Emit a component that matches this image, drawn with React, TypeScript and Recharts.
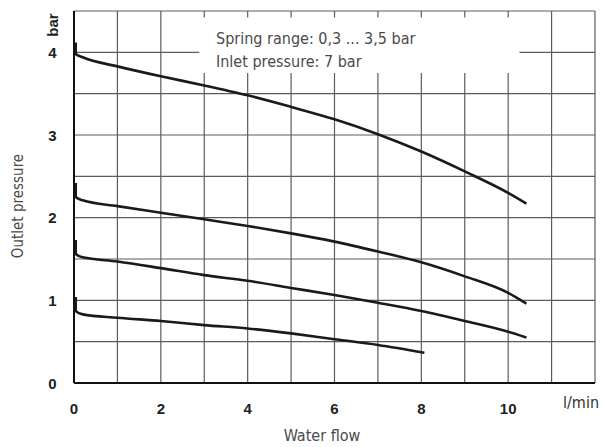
import { CartesianGrid, Line, LineChart, ReferenceArea, XAxis, YAxis } from "recharts";

// flow in l/min, outlet pressure in bar
const flowLong = [0.04, 0.04, 0.2, 1, 2, 3, 4, 5, 6, 7, 8, 9, 10, 10.42];
const flowShort = [0.04, 0.04, 0.2, 1, 2, 3, 4, 5, 6, 7, 8.07];

const outletTop = [4.12, 3.98, 3.94, 3.83, 3.71, 3.6, 3.48, 3.34, 3.19, 3.01, 2.8, 2.56, 2.3, 2.17];
const outletSecond = [2.42, 2.25, 2.21, 2.14, 2.06, 1.98, 1.9, 1.81, 1.71, 1.59, 1.46, 1.29, 1.09, 0.96];
const outletThird = [1.73, 1.56, 1.52, 1.47, 1.39, 1.305, 1.236, 1.15, 1.064, 0.97, 0.87, 0.75, 0.62, 0.55];
const outletBottom = [1.04, 0.87, 0.83, 0.79, 0.75, 0.7, 0.66, 0.6, 0.53, 0.46, 0.366];

const xTicks = [0, 1, 2, 3, 4, 5, 6, 7, 8, 9, 10, 11, 12];
const xLabels = [0, 2, 4, 6, 8, 10];
const yTicks = [0, 0.5, 1, 1.5, 2, 2.5, 3, 3.5, 4, 4.5];
const yLabels = [0, 1, 2, 3, 4];

const noteLines = ["Spring range: 0,3 ... 3,5 bar", "Inlet pressure: 7 bar"];

function zip(xs: number[], ys: number[]) {
  return xs.map((x, i) => ({ x, y: ys[i] }));
}

const curves = [
  zip(flowLong, outletTop),
  zip(flowLong, outletSecond),
  zip(flowLong, outletThird),
  zip(flowShort, outletBottom),
];

const W = 603;
const H = 447;
const narrow = "'DejaVu Sans Condensed', Roboto, sans-serif";
const bold = "'Liberation Sans', Arial, sans-serif";

function XTick(props: any) {
  const { x, y, payload } = props;
  if (!xLabels.includes(payload.value)) return null;
  return (
    <text x={x} y={y + 23} textAnchor="middle" fontFamily={bold} fontWeight="bold" fontSize={15} fill="#222">
      {payload.value}
    </text>
  );
}

function YTick(props: any) {
  const { y, payload } = props;
  if (!yLabels.includes(payload.value)) return null;
  return (
    <text x={52.5} y={y + 5.5} textAnchor="middle" fontFamily={bold} fontWeight="bold" fontSize={15} fill="#222">
      {payload.value}
    </text>
  );
}

export default function App() {
  return (
    <div style={{ position: "relative", width: W, height: H, background: "#fff" }}>
      <style>{"body{margin:0}"}</style>
      <LineChart width={W} height={H} margin={{ top: 11, right: 8, bottom: 0, left: 0 }}>
        <CartesianGrid stroke="#5c5c5c" strokeWidth={1.2} />
        <XAxis
          type="number"
          dataKey="x"
          domain={[0, 12]}
          ticks={xTicks}
          interval={0}
          height={64}
          tickLine={false}
          axisLine={{ stroke: "#111", strokeWidth: 2 }}
          tick={<XTick />}
          allowDataOverflow
        />
        <YAxis
          type="number"
          dataKey="y"
          domain={[0, 4.5]}
          ticks={yTicks}
          interval={0}
          width={74}
          tickLine={false}
          axisLine={{ stroke: "#111", strokeWidth: 2 }}
          tick={<YTick />}
          allowDataOverflow
        />
        <ReferenceArea x1={2.885} x2={10.26} y1={3.75} y2={4.42} fill="#fff" fillOpacity={1} stroke="none" />
        {curves.map((data, i) => (
          <Line
            key={i}
            data={data}
            dataKey="y"
            type="monotone"
            stroke="#1a1a1a"
            strokeWidth={2.6}
            dot={false}
            activeDot={false}
            isAnimationActive={false}
          />
        ))}
      </LineChart>
      <svg width={W} height={H} style={{ position: "absolute", left: 0, top: 0, pointerEvents: "none" }}>
        {noteLines.map((t, i) => (
          <text key={t} x={216} y={44 + i * 23} fontFamily={narrow} fontSize={16} fill="#4a4a4a">
            {t}
          </text>
        ))}
        <text
          transform="translate(58,25) rotate(-90)"
          textAnchor="middle"
          fontFamily={bold}
          fontWeight="bold"
          fontSize={15}
          fill="#222"
        >
          bar
        </text>
        <text x={563} y={408} fontFamily={narrow} fontSize={16} fill="#333">
          l/min
        </text>
        <text x={322} y={441} textAnchor="middle" fontFamily={narrow} fontSize={16} fill="#4a4a4a">
          Water flow
        </text>
        <text transform="translate(23,206) rotate(-90)" textAnchor="middle" fontFamily={narrow} fontSize={15} fill="#4a4a4a">
          Outlet pressure
        </text>
      </svg>
    </div>
  );
}
